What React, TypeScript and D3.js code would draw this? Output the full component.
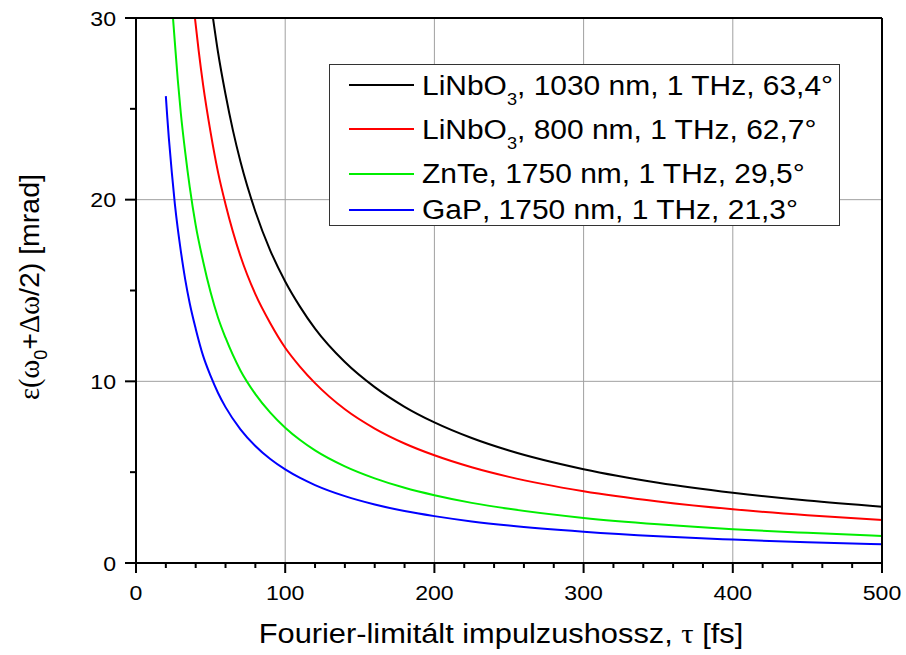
import React from "react";
import * as d3 from "d3";

// tau [fs] values and epsilon [mrad] values
const blackTau = [51.6, 55, 60, 65, 70, 80, 90, 100, 110, 120, 140, 160, 180, 200, 225, 250, 300, 350, 400, 450, 500];
const blackVal = [30, 28.1, 25.8, 23.8, 22.1, 19.35, 17.2, 15.5, 14.1, 12.9, 11.06, 9.68, 8.6, 7.74, 6.88, 6.19, 5.16, 4.42, 3.87, 3.44, 3.1];

const redTau = [39.5, 42, 45, 50, 55, 60, 70, 80, 90, 100, 110, 120, 140, 160, 180, 200, 225, 250, 300, 350, 400, 450, 500];
const redVal = [30, 28.2, 26.3, 23.7, 21.5, 19.75, 16.9, 14.8, 13.2, 11.85, 10.8, 9.9, 8.46, 7.4, 6.58, 5.93, 5.27, 4.74, 3.95, 3.39, 2.96, 2.63, 2.37];

const greenTau = [24.8, 26, 28, 30, 33, 36, 40, 45, 50, 55, 60, 70, 80, 90, 100, 110, 120, 140, 160, 180, 200, 225, 250, 300, 350, 400, 450, 500];
const greenVal = [30, 28.7, 26.6, 24.8, 22.6, 20.7, 18.6, 16.6, 14.9, 13.5, 12.4, 10.6, 9.3, 8.28, 7.45, 6.77, 6.2, 5.32, 4.66, 4.14, 3.73, 3.31, 2.98, 2.48, 2.13, 1.86, 1.66, 1.49];

const blueTau = [20, 21, 22, 24, 26, 28, 30, 33, 36, 40, 45, 50, 55, 60, 70, 80, 90, 100, 110, 120, 140, 160, 180, 200, 225, 250, 300, 350, 400, 450, 500];
const blueVal = [25.7, 24.5, 23.4, 21.5, 19.8, 18.4, 17.2, 15.6, 14.3, 12.9, 11.4, 10.3, 9.36, 8.58, 7.36, 6.44, 5.72, 5.15, 4.68, 4.29, 3.68, 3.22, 2.86, 2.58, 2.29, 2.06, 1.72, 1.47, 1.29, 1.14, 1.03];

const seriesNames = ["LiNbO", "LiNbO", "ZnTe", "GaP"];
const seriesSubs = ["3", "3", "", ""];
const seriesRest = [", 1030 nm, 1 THz, 63,4°", ", 800 nm, 1 THz, 62,7°", ", 1750 nm, 1 THz, 29,5°", ", 1750 nm, 1 THz, 21,3°"];
const seriesColors = ["#000000", "#ff0000", "#00ee00", "#0000ff"];

const xTicks = [0, 100, 200, 300, 400, 500];
const yTicks = [0, 10, 20, 30];
const xMinor = d3.range(0, 501, 20);
const yMinor = [5, 15, 25];

const W = 906, H = 655;
const L = 136, R = 882, T = 18, B = 563;
const FONT = "'Liberation Sans', Arial, Helvetica, sans-serif";
const SERIF = "'Liberation Serif', 'Times New Roman', serif";

export default function App() {
  const x = d3.scaleLinear().domain([0, 500]).range([L, R]);
  const y = d3.scaleLinear().domain([0, 30]).range([B, T]);
  const line = d3
    .line<[number, number]>()
    .x((d) => x(d[0]))
    .y((d) => y(d[1]))
    .curve(d3.curveMonotoneX);

  const series = [
    d3.zip(blackTau, blackVal) as [number, number][],
    d3.zip(redTau, redVal) as [number, number][],
    d3.zip(greenTau, greenVal) as [number, number][],
    d3.zip(blueTau, blueVal) as [number, number][],
  ];

  const legendRowsLineY = [85, 129, 174, 210];
  const legendRowsBase = [95, 139, 183, 219];

  return (
    <svg
      width={W}
      height={H}
      style={{ position: "absolute", left: 0, top: 0, background: "#fff" }}
      fontFamily={FONT}
    >
      <defs>
        <clipPath id="plotclip">
          <rect x={L} y={T} width={R - L} height={B - T} />
        </clipPath>
      </defs>
      <rect x={0} y={0} width={W} height={H} fill="#fff" />
      {/* grid */}
      {xTicks.slice(1, -1).map((t) => (
        <line key={"gx" + t} x1={x(t)} x2={x(t)} y1={T} y2={B} stroke="#a0a0a0" strokeWidth={1} />
      ))}
      {yTicks.slice(1).map((t) => (
        <line key={"gy" + t} x1={L} x2={R} y1={y(t)} y2={y(t)} stroke="#a0a0a0" strokeWidth={1} />
      ))}
      {/* curves */}
      <g clipPath="url(#plotclip)">
        {series.map((s, i) => (
          <path key={i} d={line(s) || ""} fill="none" stroke={seriesColors[i]} strokeWidth={2} />
        ))}
      </g>
      {/* frame */}
      <line x1={L} x2={R} y1={T} y2={T} stroke="#000" strokeWidth={2} />
      <line x1={R} x2={R} y1={T} y2={B} stroke="#000" strokeWidth={2} />
      <line x1={L} x2={L} y1={T} y2={B + 1} stroke="#000" strokeWidth={2} />
      <line x1={L - 1} x2={R + 1} y1={B} y2={B} stroke="#000" strokeWidth={2} />
      {/* x ticks */}
      {xMinor.map((t) => (
        <line key={"xm" + t} x1={x(t)} x2={x(t)} y1={B} y2={B + (t % 100 === 0 ? 10 : 5)} stroke="#000" strokeWidth={2} />
      ))}
      {xTicks.map((t) => (
        <text
          key={"xl" + t}
          transform={`translate(${x(t)},600) scale(1.1,1)`}
          fontSize={21}
          textAnchor="middle"
          fill="#000"
        >
          {t}
        </text>
      ))}
      {/* y ticks */}
      {yTicks.map((t) => (
        <line key={"yt" + t} x1={L - 11} x2={L} y1={y(t)} y2={y(t)} stroke="#000" strokeWidth={2} />
      ))}
      {yMinor.map((t) => (
        <line key={"ym" + t} x1={L - 6} x2={L} y1={y(t)} y2={y(t)} stroke="#000" strokeWidth={2} />
      ))}
      {yTicks.map((t) => (
        <text
          key={"yl" + t}
          transform={`translate(116,${y(t) + 7.5}) scale(1.1,1)`}
          fontSize={21}
          textAnchor="end"
          fill="#000"
        >
          {t}
        </text>
      ))}
      {/* axis titles */}
      <text transform="translate(501,643) scale(1.1,1)" fontSize={28} textAnchor="middle" fill="#000">
        Fourier-limitált impulzushossz, <tspan fontFamily={SERIF}>τ</tspan> [fs]
      </text>
      <text transform="translate(39,287) rotate(-90)" fontSize={28.5} textAnchor="middle" fill="#000">
        <tspan fontFamily={SERIF}>ε(ω</tspan>
        <tspan fontSize={18} dy={8}>0</tspan>
        <tspan dy={-8}>+</tspan>
        <tspan fontFamily={SERIF}>Δω</tspan>
        <tspan>/2) [mrad]</tspan>
      </text>
      {/* legend */}
      <rect x={329.5} y={64.5} width={510} height={161} fill="#fff" stroke="#333" strokeWidth={1} />
      {seriesColors.map((c, i) => (
        <g key={"lg" + i}>
          <line x1={349} x2={414} y1={legendRowsLineY[i]} y2={legendRowsLineY[i]} stroke={c} strokeWidth={2} />
          <text transform={`translate(422,${legendRowsBase[i]}) scale(1.07,1)`} fontSize={28} fill="#000">
            {seriesNames[i]}
            {seriesSubs[i] ? (
              <>
                <tspan fontSize={17} dy={10}>{seriesSubs[i]}</tspan>
                <tspan dy={-10}>{seriesRest[i]}</tspan>
              </>
            ) : (
              <tspan>{seriesRest[i]}</tspan>
            )}
          </text>
        </g>
      ))}
    </svg>
  );
}
